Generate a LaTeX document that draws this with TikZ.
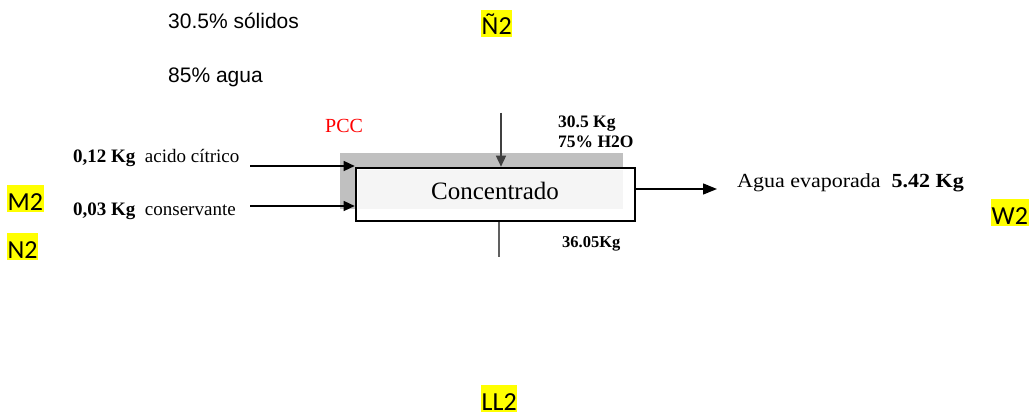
\documentclass[tikz,border=0pt]{standalone}
\usepackage{fontspec}
\setmainfont{Liberation Serif}
\newfontfamily\sansf{Liberation Sans}
\newfontfamily\calf{Carlito}
\newfontfamily\serifwide[FakeStretch=1.1]{Liberation Serif}
\usetikzlibrary{arrows.meta,calc}
\definecolor{hl}{RGB}{255,255,0}
\definecolor{shad}{RGB}{192,192,192}
\definecolor{innerfill}{RGB}{245,245,245}
\definecolor{pccred}{RGB}{255,0,0}
\definecolor{darkline}{RGB}{64,64,64}
\definecolor{midline}{RGB}{96,96,96}
\begin{document}
\begin{tikzpicture}[x=1pt,y=-1pt,
  hlbox/.style={fill=hl, inner sep=0pt, inner xsep=0.5pt, text height=25pt, text depth=2pt,
    anchor=base west, font=\calf\fontsize{26}{26}\selectfont},
  sanslbl/.style={anchor=base west, inner sep=0pt, font=\sansf\fontsize{21}{21}\selectfont},
  inlbl/.style={anchor=base west, inner sep=0pt, font=\fontsize{19}{19}\selectfont},
  datalbl/.style={anchor=base west, inner sep=0pt, font=\bfseries\fontsize{17.5}{17.5}\selectfont},
  flow/.style={line width=1.4pt, -{Triangle[length=11pt,width=10pt]}},
  bigflow/.style={line width=1.4pt, -{Triangle[length=14pt,width=11pt]}},
  procbox/.style={draw=black, line width=2.6pt, minimum width=279pt, minimum height=53pt, inner sep=0pt},
]
\useasboundingbox (0,0) rectangle (1030,417);

% texts at top
\node[sanslbl] (sol) at (168,29) {30.5\% sólidos};
\node[sanslbl] (agu) at (168,83) {85\% agua};

% highlighted labels
\node[hlbox] (n2t) at (481,35) {Ñ2};
\node[hlbox] (m2) at (7,210) {M2};
\node[hlbox] (n2) at (7,258) {N2};
\node[hlbox] (w2) at (991,224) {W2};
\node[hlbox] (ll2) at (481,410) {LL2};

% shadow and process box
\fill[shad] (340,153) rectangle (623,209);
\node[procbox, fill=white] (conc) at (495.5,194.5) {};
\fill[innerfill] (357.5,169.5) rectangle (623,209);
\node[procbox] (concb) at (495.5,194.5) {};
\node[anchor=base, inner sep=0pt, font=\fontsize{25}{25}\selectfont] (ctext) at (495,199) {Concentrado};

\node[anchor=base west, inner sep=0pt, text=pccred, font=\fontsize{20}{20}\selectfont] (pcc) at (325,132) {PCC};

% inputs
\node[inlbl] (in1) at (73,162) {\textbf{0,12 Kg}\ \ acido cítrico};
\node[inlbl] (in2) at (73,215) {\textbf{0,03 Kg}\ \ conservante};
\coordinate (a1) at (250,166);
\coordinate (a2) at (250,206);
\draw[flow] (a1) -- (a1 -| concb.west);
\draw[flow] (a2) -- (a2 -| concb.west);

% top feed
\coordinate (topin) at (501,113);
\draw[flow, draw=darkline, fill=darkline] (topin) -- (topin |- concb.north);
\node[datalbl] (feed1) at (558,128) {30.5 Kg};
\node[datalbl] (feed2) at (558,147) {75\% H2O};

% bottom product
\coordinate (botout) at (499,257);
\draw[line width=1.4pt, midline] (botout |- concb.south) -- (botout);
\node[anchor=base west, inner sep=0pt, font=\bfseries\fontsize{16.5}{16.5}\selectfont] (prod) at (562,247) {36.05Kg};

% evaporated water
\coordinate (wout) at (717,189);
\draw[bigflow] (wout -| concb.east) -- (wout);
\node[anchor=base west, inner sep=0pt, font=\serifwide\fontsize{20}{20}\selectfont] (evap) at (737,187) {Agua evaporada\ \ \textbf{5.42 Kg}};
\end{tikzpicture}
\end{document}
